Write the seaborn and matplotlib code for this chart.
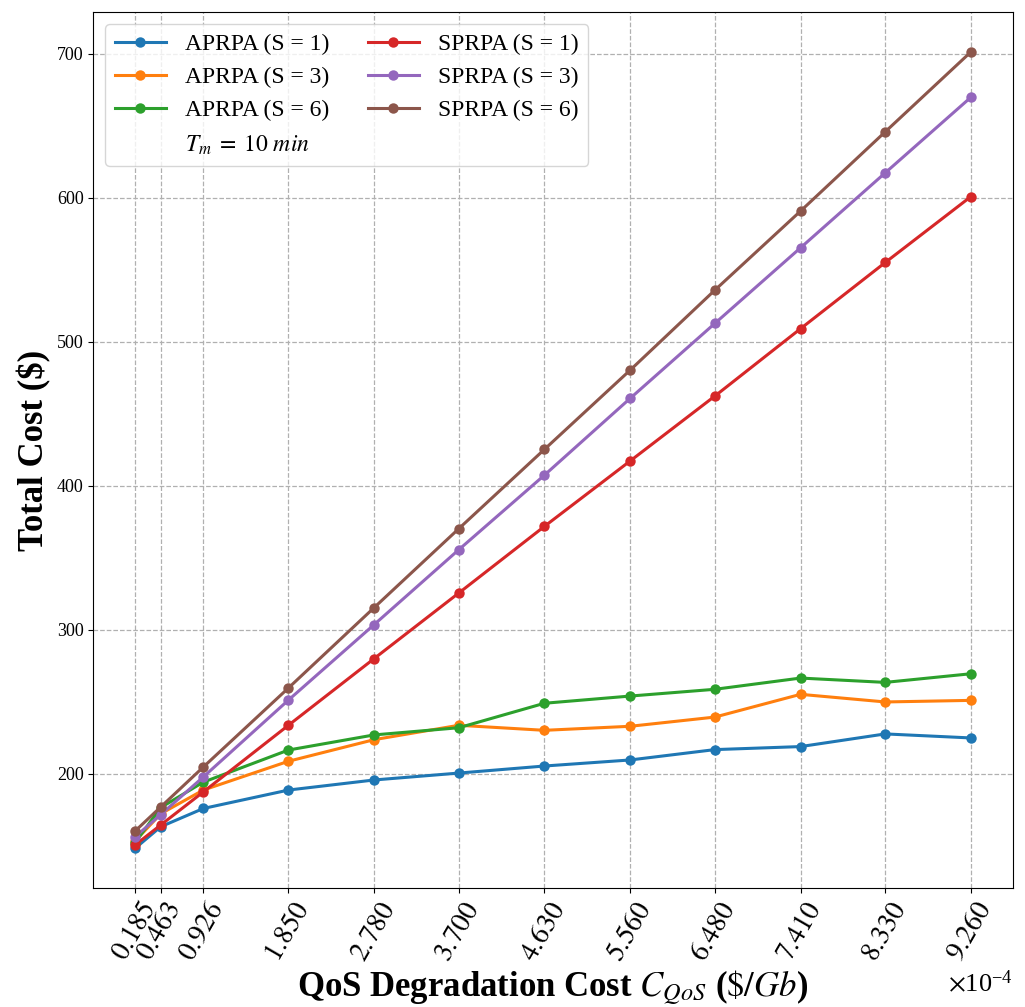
import numpy as np
import pandas as pd
import seaborn as sns
import matplotlib.pyplot as plt
from matplotlib.ticker import ScalarFormatter

# ==========================================
# data
# ==========================================
c_qos = np.array([0.185, 0.463, 0.926, 1.850, 2.780, 3.700,
                  4.630, 5.560, 6.480, 7.410, 8.330, 9.260]) * 1e-4

aprpa_s1 = [148.0, 163.0, 175.7, 188.5, 195.5, 200.3, 205.2, 209.4, 216.6, 218.7, 227.5, 224.7]
aprpa_s3 = [153.0, 172.0, 188.5, 208.5, 223.5, 233.5, 230.0, 232.8, 239.2, 255.0, 249.7, 250.8]
aprpa_s6 = [152.0, 176.3, 194.0, 216.3, 226.8, 231.8, 248.8, 253.8, 258.5, 266.3, 263.3, 269.3]
sprpa_s1 = [150.3, 164.2, 187.2, 233.5, 279.8, 325.4, 371.7, 417.1, 462.2, 509.0, 555.0, 600.8]
sprpa_s3 = [156.0, 171.4, 197.6, 251.0, 303.4, 355.5, 407.3, 460.6, 512.7, 565.2, 617.3, 669.8]
sprpa_s6 = [160.0, 176.7, 204.5, 259.4, 315.2, 370.1, 425.2, 480.2, 535.8, 590.7, 645.8, 701.3]

series_names = ["APRPA (S = 1)", "APRPA (S = 3)", "APRPA (S = 6)",
                "SPRPA (S = 1)", "SPRPA (S = 3)", "SPRPA (S = 6)"]
series_vals = [aprpa_s1, aprpa_s3, aprpa_s6, sprpa_s1, sprpa_s3, sprpa_s6]
colors = ["#1f77b4", "#ff7f0e", "#2ca02c", "#d62728", "#9467bd", "#8c564b"]

df = pd.concat([pd.DataFrame({"C": c_qos, "Cost": v, "Scheme": n})
                for n, v in zip(series_names, series_vals)], ignore_index=True)


class ItalicScalarFormatter(ScalarFormatter):
    # same as ScalarFormatter, but tick numbers in italic
    def __call__(self, x, pos=None):
        return super().__call__(x, pos).replace(r'\mathdefault', r'\mathit')


# ==========================================
# style
# ==========================================
plt.rcParams['font.family'] = ['Liberation Serif', 'DejaVu Serif']
plt.rcParams['mathtext.fontset'] = 'stix'

fig, ax = plt.subplots(figsize=(10.25, 10.07), dpi=100)
fig.subplots_adjust(left=0.091, right=0.988, bottom=0.118, top=0.988)

sns.lineplot(data=df, x="C", y="Cost", hue="Scheme", hue_order=series_names,
             palette=colors, marker="o", markersize=7.5, markeredgewidth=0,
             linewidth=2.2, ax=ax)

# ==========================================
# axes
# ==========================================
ax.grid(True, linestyle='--', color='#b0b0b0', linewidth=0.9)
ax.set_xticks(c_qos)
fmt = ItalicScalarFormatter(useMathText=True)
fmt.set_powerlimits((-3, 3))
ax.xaxis.set_major_formatter(fmt)
ax.tick_params(axis='x', labelsize=20, labelrotation=60)
ax.xaxis.get_offset_text().set_fontsize(19)
ax.tick_params(axis='y', labelsize=13)

ax.set_xlabel(r"QoS Degradation Cost $C_{QoS}$ ($\$/Gb$)", fontsize=25,
              fontweight='bold', labelpad=2)
ax.set_ylabel("Total Cost ($)", fontsize=25, fontweight='bold')

tm_label = r"$T_m\;=\;10\ min$"
handles, labels = ax.get_legend_handles_labels()
extra, = ax.plot([], [], ' ', label=tm_label)
handles.insert(3, extra)
labels.insert(3, tm_label)
ax.legend(handles, labels, loc='upper left', ncol=2, fontsize=17,
          framealpha=0.8, columnspacing=1.6, handlelength=2.2)

plt.savefig("out.png", dpi=100)
